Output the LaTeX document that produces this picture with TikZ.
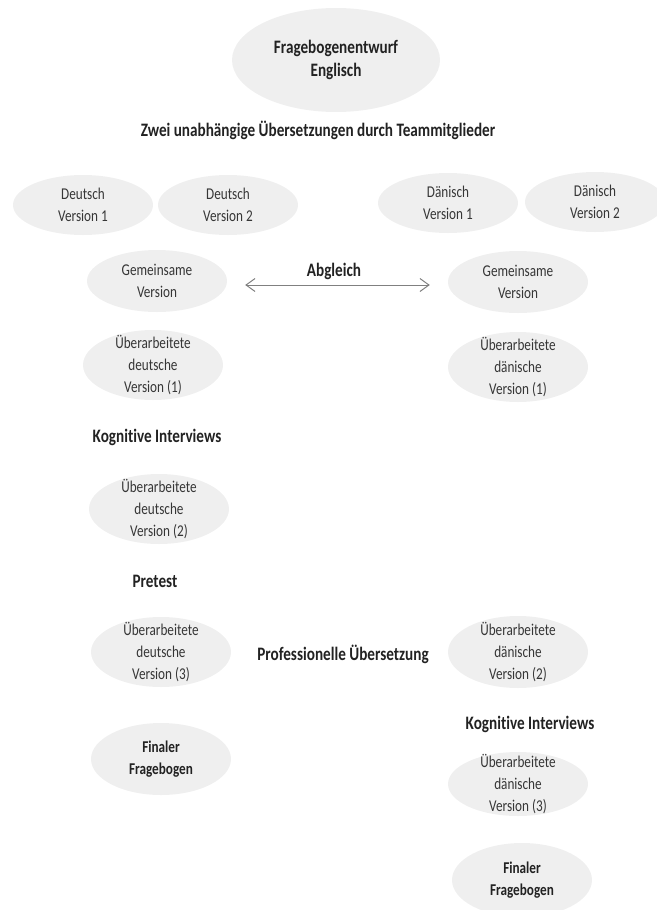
\documentclass[tikz,border=0pt]{standalone}
\usepackage{fontspec}
\setmainfont{Carlito}[FakeStretch=0.8,Ligatures=NoCommon]
\usetikzlibrary{shapes.geometric,arrows.meta}

\definecolor{bubble}{HTML}{EFEFEF}
\definecolor{bubbletext}{HTML}{363636}
\definecolor{steptext}{HTML}{222222}

\tikzset{
    version/.style={ellipse,fill=bubble,inner xsep=0pt,inner ysep=-12pt,
        minimum width=140pt,minimum height=70pt,align=center,text=bubbletext,
        font=\fontsize{16.5}{22}\selectfont},
    final/.style={version,minimum height=72pt,text=steptext,
        font=\fontsize{16.5}{22}\selectfont\bfseries},
    label/.style={text=steptext,font=\fontsize{19}{23}\selectfont\bfseries}
}

\begin{document}
\begin{tikzpicture}[x=1pt,y=-1pt]
    \useasboundingbox (0,0) rectangle (656,910);

    % Englischer Entwurf
    \node[version,minimum width=208pt,minimum height=104pt,text=steptext,
        font=\fontsize{19}{23}\selectfont\bfseries] (entwurf) at (336,60) {Fragebogenentwurf\\Englisch};
    \node[label] (team) at (318,130) {Zwei unabhängige Übersetzungen durch Teammitglieder};

    % Zwei Übersetzungen je Sprache
    \node[version,minimum height=60pt] (de1) at (83,205) {Deutsch\\Version 1};
    \node[version,minimum height=60pt] (de2) at (228,205) {Deutsch\\Version 2};
    \node[version,minimum height=60pt] (da1) at (448,203) {Dänisch\\Version 1};
    \node[version,minimum height=60pt] (da2) at (595,202) {Dänisch\\Version 2};

    % Gemeinsame Versionen und Abgleich
    \node[version,minimum height=62pt] (gemde) at (157,281) {Gemeinsame\\Version};
    \node[version,minimum height=62pt] (gemda) at (518,282) {Gemeinsame\\Version};
    \node[label] (abgleich) at (334,271) {Abgleich};
    \draw[gray,line width=1pt,{Straight Barb[length=9pt,width=13pt]}-{Straight Barb[length=9pt,width=13pt]},
        shorten <=18pt,shorten >=18pt] ([yshift=-4pt]gemde.east) -- ([yshift=-3pt]gemda.west);

    % Deutscher Zweig
    \node[version] (de_v1) at (153,365) {Überarbeitete\\deutsche\\Version (1)};
    \node[label] (kog_de) at (157,437) {Kognitive Interviews};
    \node[version] (de_v2) at (159,509) {Überarbeitete\\deutsche\\Version (2)};
    \node[label] (pretest) at (155,581) {Pretest};
    \node[version] (de_v3) at (161,652) {Überarbeitete\\deutsche\\Version (3)};
    \node[final] (final_de) at (161,759) {Finaler\\Fragebogen};

    % Dänischer Zweig
    \node[version] (da_v1) at (518,367) {Überarbeitete\\dänische\\Version (1)};
    \node[label] (prof) at (343,654) {Professionelle Übersetzung};
    \node[version,minimum height=72pt] (da_v2) at (518,652) {Überarbeitete\\dänische\\Version (2)};
    \node[label] (kog_da) at (530,724) {Kognitive Interviews};
    \node[version,minimum height=64pt] (da_v3) at (518,784) {Überarbeitete\\dänische\\Version (3)};
    \node[final,minimum height=74pt] (final_da) at (522,880) {Finaler\\Fragebogen};
\end{tikzpicture}
\end{document}
